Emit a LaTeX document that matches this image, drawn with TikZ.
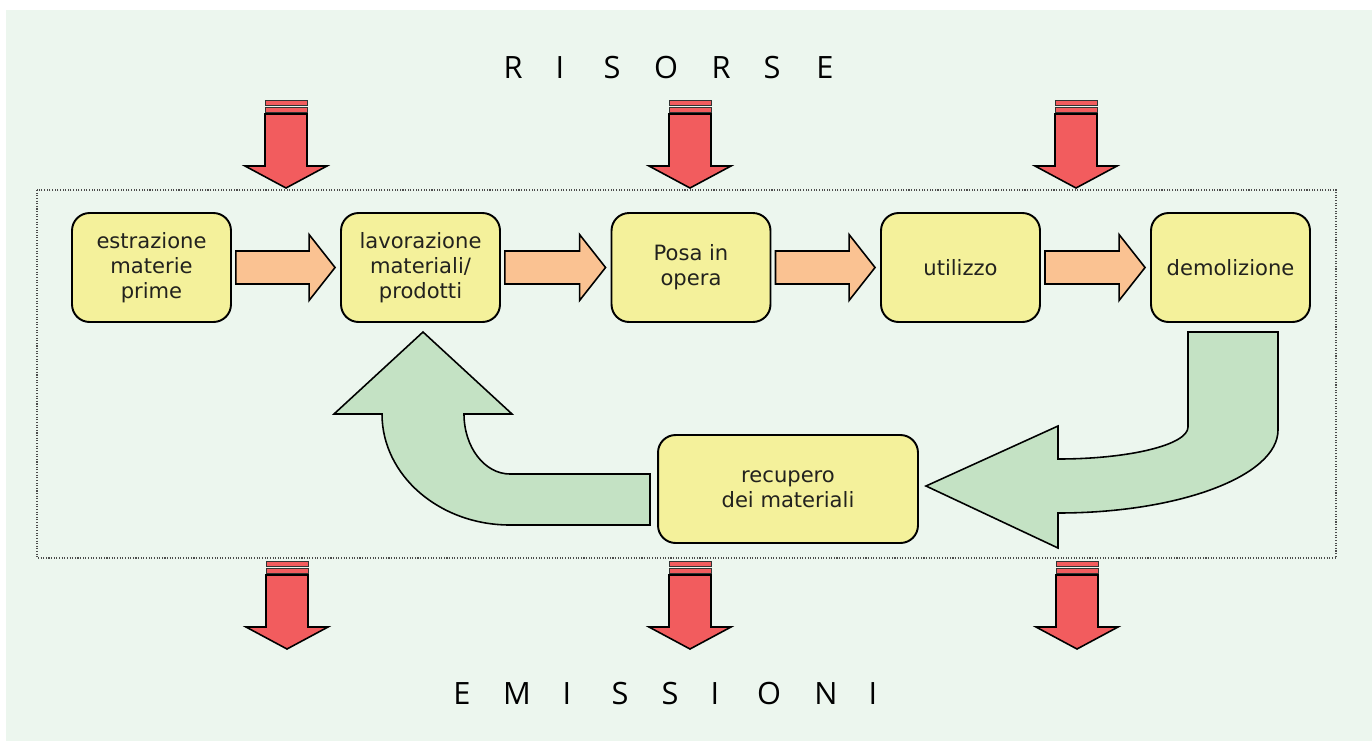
\documentclass[tikz,border=0pt]{standalone}
\usepackage{fontspec}
\setmainfont{DejaVu Sans}
\newfontfamily\titolo{Open Sans}
\usetikzlibrary{calc}
\definecolor{sfondo}{RGB}{236,246,238}
\definecolor{giallo}{RGB}{244,241,155}
\definecolor{arancio}{RGB}{250,194,146}
\definecolor{rosso}{RGB}{242,92,94}
\definecolor{verde}{RGB}{196,226,196}
\definecolor{testo}{RGB}{34,34,30}
\tikzset{
  fase/.style={draw=black, line width=1.1pt, fill=giallo, rounded corners=10pt,
    minimum width=3.18cm, minimum height=2.18cm, inner sep=0pt, align=center,
    text=testo, font=\fontsize{12}{14.2}\selectfont},
  avanti/.style={draw=black, line width=0.9pt, fill=arancio},
  ritorno/.style={draw=black, line width=0.9pt, fill=verde},
  lettera/.style={anchor=base, inner sep=0pt, text=black,
    font=\titolo\fontsize{17.5}{20}\selectfont},
  flusso/.pic={
    \filldraw[fill=rosso, draw=black!80, line width=0.5pt] (-21,0) rectangle (21,5);
    \filldraw[fill=rosso, draw=black!80, line width=0.5pt] (-21,7) rectangle (21,12);
    \filldraw[fill=rosso, draw=black, line width=0.9pt] (-21,14) -- (-21,66) -- (-41,66)
      -- (0,88) -- (41,66) -- (21,66) -- (21,14) -- cycle;
  }
}

\begin{document}
\begin{tikzpicture}[x=0.02cm, y=-0.02cm]
    \useasboundingbox (0,0) rectangle (1372,741);
    \fill[white] (0,0) rectangle (1372,741);
    \fill[sfondo] (6,10) rectangle (1372,741);

    \draw[black!70, line width=0.7pt, dash pattern=on 0.6pt off 0.9pt] (37,190) rectangle (1336,558);

    \foreach \l [count=\i] in {R,I,S,O,R,S,E}
        \pgfmathsetmacro\xl{{513,560,612,666,721,772,825}[\i-1]}
        \node[lettera] (ris\i) at (\xl,78) {\l};
    \foreach \l [count=\i] in {E,M,I,S,S,I,O,N,I}
        \pgfmathsetmacro\xl{{462,517,567,620,670,715,769,826,873}[\i-1]}
        \node[lettera] (emi\i) at (\xl,704) {\l};

    \node[fase] (estrazione) at (151.5,267.5) {estrazione\\materie\\prime};
    \node[fase] (lavorazione) at (420.5,267.5) {lavorazione\\materiali/\\prodotti};
    \node[fase] (posa) at (691,267.5) {Posa in\\opera};
    \node[fase] (utilizzo) at (960.5,267.5) {utilizzo};
    \node[fase] (demolizione) at (1230.5,267.5) {demolizione};
    \node[fase, minimum width=5.2cm, minimum height=2.16cm] (recupero) at (788,489) {recupero\\dei materiali};

    \foreach \a/\b in {estrazione/lavorazione, lavorazione/posa, posa/utilizzo, utilizzo/demolizione}
        \filldraw[avanti] ($(\a.east)+(4,-16.5)$) -- ($(\b.west)+(-31,-16.5)$)
            -- ($(\b.west)+(-31,-33)$) -- ($(\b.west)+(-5,0)$) -- ($(\b.west)+(-31,33)$)
            -- ($(\b.west)+(-31,16.5)$) -- ($(\a.east)+(4,16.5)$) -- cycle;

    \filldraw[ritorno] (1188,332) -- (1188,427)
        arc[start angle=0, end angle=90, x radius=130, y radius=32]
        -- (1058,426) -- (926,486) -- (1058,548) -- (1058,513)
        arc[start angle=90, end angle=0, x radius=220, y radius=83]
        -- (1278,332) -- cycle;
    \filldraw[ritorno] (650,474) -- (510,474)
        arc[start angle=90, end angle=180, x radius=46, y radius=60]
        -- (512,414) -- (423,332) -- (334,414) -- (382,414)
        arc[start angle=180, end angle=90, x radius=128, y radius=111]
        -- (650,525) -- cycle;

    \pic at (286,100) {flusso};
    \pic at (690,100) {flusso};
    \pic at (1076,100) {flusso};
    \pic at (287,561) {flusso};
    \pic at (690,561) {flusso};
    \pic at (1077,561) {flusso};
\end{tikzpicture}
\end{document}
